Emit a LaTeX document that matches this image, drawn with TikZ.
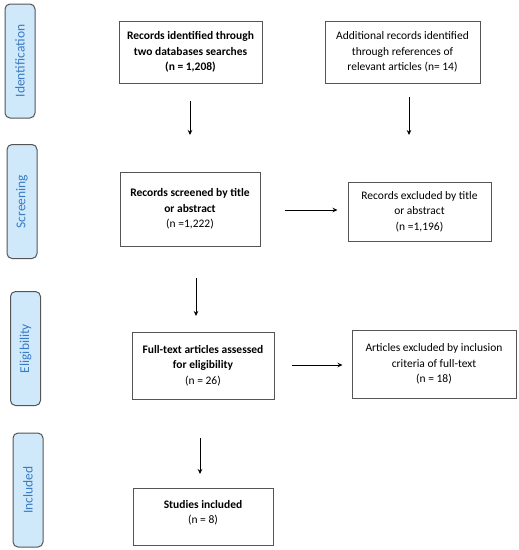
\documentclass[tikz,border=0pt]{standalone}
\usepackage{fontspec}
\setmainfont{Carlito}
\usetikzlibrary{arrows.meta,calc}
\definecolor{barfill}{HTML}{CFE9FB}
\definecolor{bartext}{HTML}{3A7CC4}
\definecolor{edge}{HTML}{555555}
\begin{document}
\begin{tikzpicture}[x=1pt,y=-1pt,
  phase/.style={draw=edge,line width=1pt,fill=barfill,rounded corners=5pt,rotate=90,
    text=bartext,font=\fontsize{13.5}{15}\selectfont,inner sep=0pt,
    minimum width=114pt,minimum height=30pt},
  box/.style={draw=edge,line width=1pt,fill=white,align=center,inner sep=2pt,
    font=\fontsize{11.5}{15.5}\selectfont},
  arr/.style={line width=0.8pt,-{Stealth[length=5pt,width=4.5pt]}}]
\useasboundingbox (0,0) rectangle (519,550);
% phase bars
\node[phase] (pid) at (20,61) {Identification};
\node[phase] (psc) at (22,201.5) {Screening};
\node[phase] (pel) at (25.5,348.5) {Eligibility};
\node[phase] (pin) at (28,490) {Included};
% boxes
\node[box,minimum width=143pt,minimum height=62pt] (b1) at (190.5,52)
  {\bfseries Records identified through\\\bfseries two databases searches\\\bfseries (n = 1,208)};
\node[box,minimum width=155pt,minimum height=62pt] (b2) at (402.5,52)
  {Additional records identified\\through references of\\relevant articles (n= 14)};
\node[box,minimum width=140pt,minimum height=74pt] (b3) at (190,209)
  {\bfseries Records screened by title\\\bfseries or abstract\\(n =1,222)};
\node[box,minimum width=143pt,minimum height=59pt] (b4) at (419.5,211.5)
  {Records excluded by title\\or abstract\\(n =1,196)};
\node[box,minimum width=142pt,minimum height=67pt] (b5) at (203,365.5)
  {\bfseries Full-text articles assessed\\\bfseries for eligibility\\(n = 26)};
\node[box,minimum width=164pt,minimum height=68pt] (b6) at (434,364)
  {Articles excluded by inclusion\\criteria of full-text\\(n = 18)};
\node[box,minimum width=140pt,minimum height=57pt] (b7) at (203,516.5)
  {\bfseries Studies included\\(n = 8)\\[-6pt]~};
% connectors
\coordinate (a1s) at (190,101);
\coordinate (a1e) at (190,135);
\draw[arr] (a1s) -- (a1e);
\coordinate (a2s) at (409,97);
\coordinate (a2e) at (409,135);
\draw[arr] (a2s) -- (a2e);
\draw[arr,shorten <=24pt,shorten >=10pt] (b3.east |- 0,210) -- (b4.west |- 0,210);
\coordinate (a3s) at (196,278);
\coordinate (a3e) at (196,316);
\draw[arr] (a3s) -- (a3e);
\draw[arr,shorten <=17pt,shorten >=9pt] (b5.east |- 0,365) -- (b6.west |- 0,365);
\coordinate (a4s) at (200,438);
\coordinate (a4e) at (200,474);
\draw[arr] (a4s) -- (a4e);
\end{tikzpicture}
\end{document}
